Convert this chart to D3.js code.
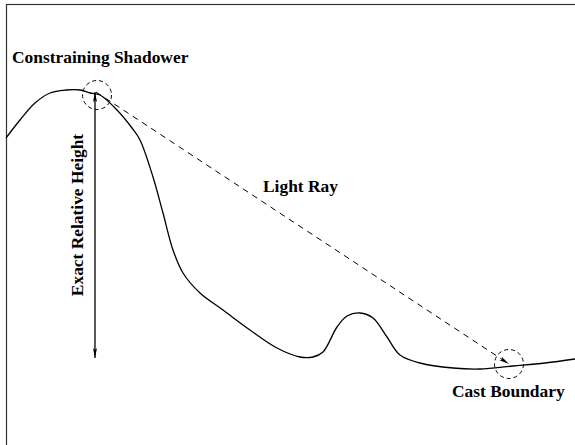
<!DOCTYPE html>
<html>
<head>
<meta charset="utf-8">
<script src="https://cdn.jsdelivr.net/npm/d3@7"></script>
<style>
  body { margin: 0; background: #fff; }
  svg text { font-family: "Liberation Serif", "Times New Roman", serif; font-weight: bold; font-size: 17.4px; fill: #000; }
</style>
</head>
<body>
<svg id="chart"></svg>
<script>
// terrain profile, distance along the ground vs elevation
var terrainDist = [0, 14, 29, 44, 60, 74, 84, 94, 111, 126, 134, 147, 157, 167, 177, 194, 217, 244, 271, 294, 307, 317, 331, 341, 354, 367, 381, 394, 414, 447, 474, 507, 539, 569];
var terrainElev = [262, 280, 297, 307, 310, 310, 307, 305, 290, 272, 260, 223, 187, 150, 127, 107, 90, 70, 52, 43, 43, 48, 73, 84, 87, 82, 63, 45, 37, 32, 31, 34, 37, 41];

// shadower (peak) and cast boundary points
var shadower = { dist: 89, elev: 308 };
var boundary = { dist: 503, elev: 36 };
var heightBase = 42; // bottom of the relative-height arrow

var labels = ["Constraining Shadower", "Light Ray", "Cast Boundary", "Exact Relative Height"];

const width = 575, height = 445;
const svg = d3.select('#chart').attr('width', width).attr('height', height);

// scales: ground distance -> x pixels, elevation -> y pixels
const x = d3.scaleLinear().domain([0, 569]).range([6, 575]);
const y = d3.scaleLinear().domain([0, 400]).range([400, 0]);

// frame
svg.append('rect').attr('x', 6.5).attr('y', 4.5).attr('width', 600).attr('height', 500)
  .attr('fill', 'none').attr('stroke', '#333').attr('stroke-width', 1.2);

// arrow markers
var defs = svg.append('defs');
defs.append('marker').attr('id', 'arr').attr('viewBox', '0 0 10 10')
  .attr('refX', 10).attr('refY', 5).attr('markerWidth', 10).attr('markerHeight', 10)
  .attr('markerUnits', 'userSpaceOnUse').attr('orient', 'auto-start-reverse')
  .append('path').attr('d', 'M0,3 L10,5 L0,7 L2,5 Z').attr('fill', '#000');

// terrain line
var terrain = terrainDist.map((d, i) => ({ dist: d, elev: terrainElev[i] }));
var line = d3.line().x(d => x(d.dist)).y(d => y(d.elev)).curve(d3.curveCatmullRom);
svg.append('path').attr('d', line(terrain)).attr('fill', 'none')
  .attr('stroke', '#000').attr('stroke-width', 1.3);

// relative height arrow
svg.append('line')
  .attr('x1', x(shadower.dist)).attr('y1', y(heightBase))
  .attr('x2', x(shadower.dist)).attr('y2', y(shadower.elev))
  .attr('stroke', '#000').attr('stroke-width', 1.3)
  .attr('marker-start', 'url(#arr)').attr('marker-end', 'url(#arr)');

// light ray
svg.append('line')
  .attr('x1', x(shadower.dist + 1)).attr('y1', y(shadower.elev))
  .attr('x2', x(boundary.dist)).attr('y2', y(boundary.elev))
  .attr('stroke', '#000').attr('stroke-width', 1).attr('stroke-dasharray', '6,5')
  .attr('marker-end', 'url(#arr)');

// dashed circles around the two key points
svg.selectAll('.marker_circle').data([{ dist: 91, elev: 305 }, { dist: 503, elev: 36 }]).join('circle')
  .attr('class', 'marker_circle')
  .attr('cx', d => x(d.dist)).attr('cy', d => y(d.elev)).attr('r', 14.5)
  .attr('fill', 'none').attr('stroke', '#000').attr('stroke-width', 1).attr('stroke-dasharray', '4,3');

// labels
svg.append('text').attr('x', 12).attr('y', 63).text(labels[0]);
svg.append('text').attr('x', 263).attr('y', 192).text(labels[1]);
svg.append('text').attr('x', 452).attr('y', 397).text(labels[2]);
svg.append('text').attr('transform', 'translate(83,215) rotate(-90)')
  .attr('text-anchor', 'middle').text(labels[3]);
</script>
</body>
</html>
